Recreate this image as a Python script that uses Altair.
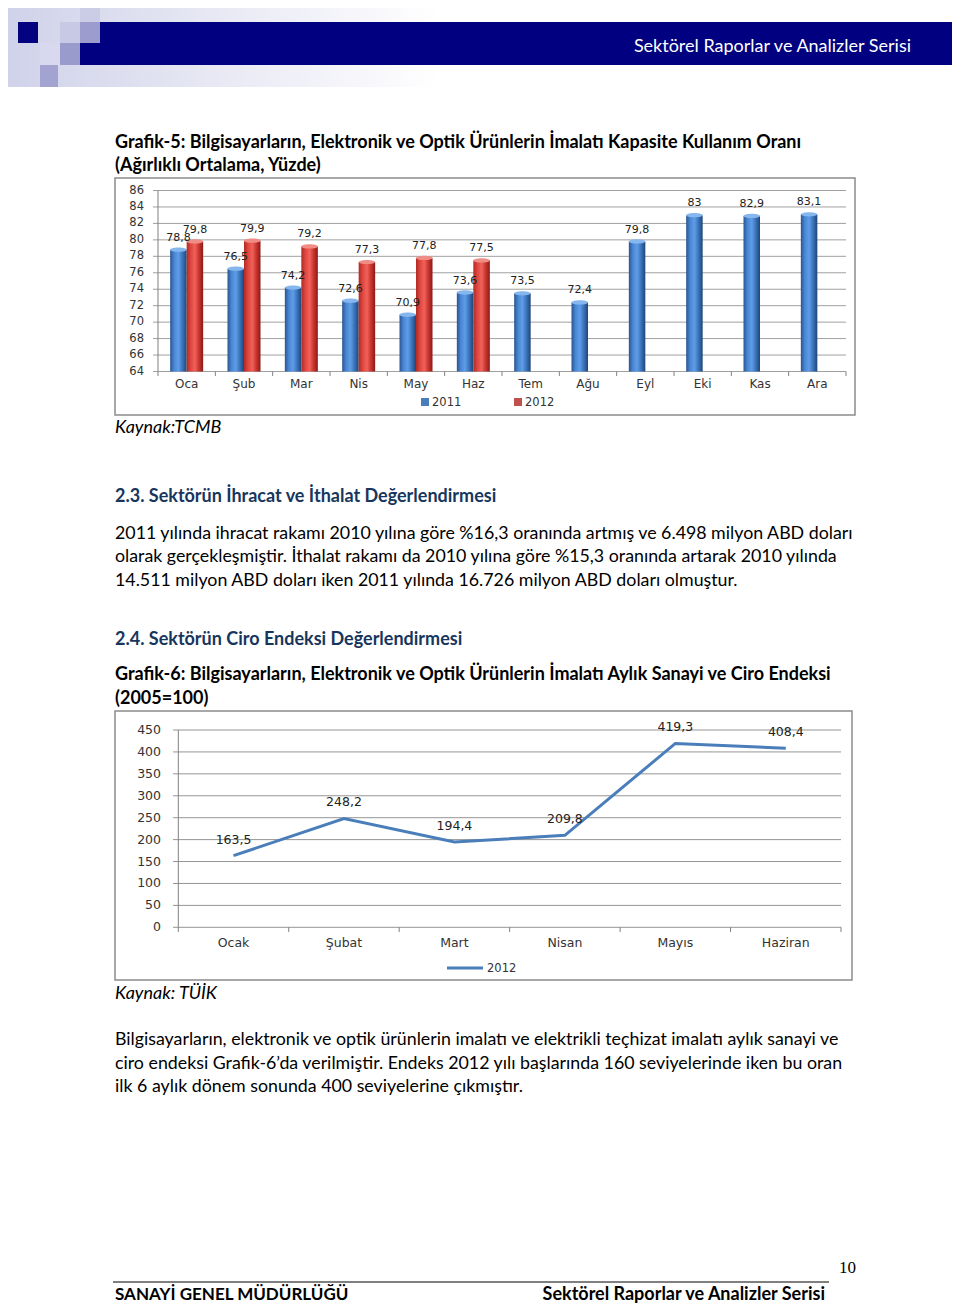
import altair as alt
import pandas as pd

# ---------------- data ----------------
months5 = ['Oca', 'Şub', 'Mar', 'Nis', 'May', 'Haz', 'Tem', 'Ağu', 'Eyl', 'Eki', 'Kas', 'Ara']
util_2011 = [78.8, 76.5, 74.2, 72.6, 70.9, 73.6, 73.5, 72.4, 79.8, 83, 82.9, 83.1]
util_2012 = [79.8, 79.9, 79.2, 77.3, 77.8, 77.5]
yticks5 = [64, 66, 68, 70, 72, 74, 76, 78, 80, 82, 84, 86]

months6 = ['Ocak', 'Şubat', 'Mart', 'Nisan', 'Mayıs', 'Haziran']
ciro_2012 = [163.5, 248.2, 194.4, 209.8, 419.3, 408.4]
yticks6 = [0, 50, 100, 150, 200, 250, 300, 350, 400, 450]


def tr(v):
    return f"{v:g}".replace('.', ',')


def P(v):  # page pixel -> chart pixel (8px page margin)
    return v - 8


BODY = 'Lato'
XL = 'DejaVu Sans'
FS_REG = 17.8
FS_BOLD = 18

# ---------------- helpers ----------------
def txt(rows, **kw):
    df = pd.DataFrame(rows, columns=['x', 'y', 't'])
    df['x'] = df['x'] - 8
    df['y'] = df['y'] - 8
    return alt.Chart(df).mark_text(**kw).encode(
        x=alt.X('x:Q', scale=None), y=alt.Y('y:Q', scale=None), text='t:N')


def rects(rows, **kw):
    df = pd.DataFrame(rows, columns=['x', 'y', 'x2', 'y2', 'c'])
    for k in ['x', 'y', 'x2', 'y2']:
        df[k] = df[k] - 8
    return alt.Chart(df).mark_rect(**kw).encode(
        x=alt.X('x:Q', scale=None), x2='x2:Q',
        y=alt.Y('y:Q', scale=None), y2='y2:Q',
        color=alt.Color('c:N', scale=None))


def grad(cols):
    n = len(cols) - 1
    return alt.Gradient(gradient='linear', x1=0, x2=1, y1=0, y2=0,
                        stops=[alt.GradientStop(color=c, offset=i / n) for i, c in enumerate(cols)])


layers = []

# ---------------- header ----------------
bg = pd.DataFrame({'x': [P(8)], 'x2': [P(440)], 'y': [P(8)], 'y2': [P(87)]})
layers.append(alt.Chart(bg).mark_rect(
    fill=alt.Gradient(gradient='linear', x1=0, x2=1, y1=0, y2=0,
                      stops=[alt.GradientStop(color='#D0D2EA', offset=0),
                             alt.GradientStop(color='#E6E7F3', offset=0.45),
                             alt.GradientStop(color='#FFFFFF', offset=1)])
).encode(x=alt.X('x:Q', scale=None), x2='x2:Q', y=alt.Y('y:Q', scale=None), y2='y2:Q'))

layers.append(rects([
    (80, 8, 100, 22, '#CBCDE7'),
    (18, 22, 38, 43, '#03037F'),
    (60, 22, 80, 43, '#C8C9E5'),
    (80, 22, 100, 43, '#9C9DCE'),
    (40, 43, 60, 65, '#D8D9EE'),
    (60, 43, 80, 65, '#9A9BCD'),
    (40, 65, 58, 87, '#A2A3D1'),
    (100, 22, 952, 43, '#000080'),
    (80, 43, 952, 65, '#000080'),
]))
layers.append(txt([(911, 47, 'Sektörel Raporlar ve Analizler Serisi')],
                  font=BODY, fontSize=18, color='white', align='right', baseline='middle'))

# ---------------- chart frames ----------------
layers.append(rects([(115, 178, 855, 415, 'white'), (115, 711, 852, 980, 'white')],
                    stroke='#8C8C8C', strokeWidth=1.5))

# ---------------- Grafik-5 bar chart ----------------
X5 = alt.Scale(domain=months5, range=[P(158), P(846)], paddingInner=0.424, paddingOuter=0.212)
Y5 = alt.Scale(domain=[64, 86], range=[P(371.5), P(190.5)], zero=False, nice=False)
step5 = (846 - 158) / 12

df_t5 = pd.DataFrame({'t': yticks5, 'lbl': [str(t) for t in yticks5]})
df_m5 = pd.DataFrame({'month': months5})
df_ax5 = pd.DataFrame({'lo': [yticks5[0]], 'hi': [yticks5[-1]]})
df_a = pd.DataFrame({'month': months5, 'v': util_2011, 'lbl': [tr(v) for v in util_2011]})
df_b = pd.DataFrame({'month': months5[:len(util_2012)], 'v': util_2012,
                     'lbl': [tr(v) for v in util_2012]})

layers.append(alt.Chart(df_t5).mark_rule(color='#A0A0A0', strokeWidth=1).encode(
    y=alt.Y('t:Q', scale=Y5, axis=None), x=alt.value(P(153)), x2=alt.value(P(846))))
layers.append(alt.Chart(df_t5).mark_text(font=XL, fontSize=11.5, color='#333333', align='right',
                                         baseline='middle').encode(
    y=alt.Y('t:Q', scale=Y5, axis=None), x=alt.value(P(144)), text='lbl:N'))
layers.append(alt.Chart(df_ax5).mark_rule(color='#808080', strokeWidth=1).encode(
    y=alt.Y('hi:Q', scale=Y5, axis=None), y2='lo:Q', x=alt.value(P(158))))
layers.append(alt.Chart(df_m5).mark_rule(color='#808080', strokeWidth=1, xOffset=-step5 / 2).encode(
    x=alt.X('month:N', scale=X5, axis=None, bandPosition=0.5),
    y=alt.value(P(371.5)), y2=alt.value(P(376))))
layers.append(alt.Chart(df_m5.tail(1)).mark_rule(color='#808080', strokeWidth=1, xOffset=step5 / 2).encode(
    x=alt.X('month:N', scale=X5, axis=None, bandPosition=0.5),
    y=alt.value(P(371.5)), y2=alt.value(P(376))))

bw = 16.5
blue_grad = grad(['#2A5590', '#4A88D6', '#5E9DE6', '#3A72BA', '#1F4577'])
red_grad = grad(['#B02A24', '#E04640', '#F0625A', '#C8342E', '#8A1A16'])
cap = 'M -1 0 A 1 0.26 0 1 1 1 0 A 1 0.26 0 1 1 -1 0 Z'
series5 = [(df_a, -bw / 2, blue_grad, '#86B6EE'), (df_b, bw / 2, red_grad, '#F08C86')]

# bars first
for df_, off, fill_, capc in series5:
    layers.append(alt.Chart(df_).mark_bar(width=bw, xOffset=off, fill=fill_).encode(
        x=alt.X('month:N', scale=X5, axis=None), y=alt.Y('v:Q', scale=Y5, axis=None),
        y2=alt.datum(yticks5[0])))
    layers.append(alt.Chart(df_).mark_point(shape=cap, size=bw * bw, filled=True, fill=capc,
                                            opacity=1, strokeWidth=0, xOffset=off).encode(
        x=alt.X('month:N', scale=X5, axis=None, bandPosition=0.5),
        y=alt.Y('v:Q', scale=Y5, axis=None)))
# then value labels on top of all bars
for df_, off, fill_, capc in series5:
    layers.append(alt.Chart(df_).mark_text(font=XL, fontSize=11, color='#222222', xOffset=off, dy=-12,
                                           baseline='middle').encode(
        x=alt.X('month:N', scale=X5, axis=None, bandPosition=0.5),
        y=alt.Y('v:Q', scale=Y5, axis=None), text='lbl:N'))

layers.append(alt.Chart(df_m5).mark_text(font=XL, fontSize=12, color='#333333', baseline='middle').encode(
    x=alt.X('month:N', scale=X5, axis=None, bandPosition=0.5), y=alt.value(P(384)), text='month:N'))

# legend 5
layers.append(rects([(421, 398, 429, 406, '#4A7EBB'), (514, 398, 522, 406, '#C0504D')]))
layers.append(txt([(432, 402.5, '2011'), (525, 402.5, '2012')],
                  font=XL, fontSize=11.5, color='#333333', align='left', baseline='middle'))

# ---------------- Grafik-6 line chart ----------------
X6 = alt.Scale(type='point', domain=months6, range=[P(178.3), P(841)], padding=0.5)
Y6 = alt.Scale(domain=[0, 450], range=[P(927.3), P(730)], zero=False, nice=False)
step6 = (841 - 178.3) / 6

df_t6 = pd.DataFrame({'t': yticks6, 'lbl': [str(t) for t in yticks6]})
df_m6 = pd.DataFrame({'ay': months6})
df_ax6 = pd.DataFrame({'lo': [yticks6[0]], 'hi': [yticks6[-1]]})
df_c = pd.DataFrame({'ay': months6, 'v': ciro_2012, 'lbl': [tr(v) for v in ciro_2012]})

layers.append(alt.Chart(df_t6).mark_rule(color='#959595', strokeWidth=1).encode(
    y=alt.Y('t:Q', scale=Y6, axis=None), x=alt.value(P(173)), x2=alt.value(P(841))))
layers.append(alt.Chart(df_t6).mark_text(font=XL, fontSize=12.5, color='#333333', align='right',
                                         baseline='middle').encode(
    y=alt.Y('t:Q', scale=Y6, axis=None), x=alt.value(P(161)), text='lbl:N'))
layers.append(alt.Chart(df_ax6).mark_rule(color='#808080', strokeWidth=1).encode(
    y=alt.Y('hi:Q', scale=Y6, axis=None), y2='lo:Q', x=alt.value(P(178.3))))
layers.append(alt.Chart(df_m6).mark_rule(color='#808080', strokeWidth=1, xOffset=-step6 / 2).encode(
    x=alt.X('ay:N', scale=X6, axis=None), y=alt.value(P(927.3)), y2=alt.value(P(932))))
layers.append(alt.Chart(df_m6.tail(1)).mark_rule(color='#808080', strokeWidth=1, xOffset=step6 / 2).encode(
    x=alt.X('ay:N', scale=X6, axis=None), y=alt.value(P(927.3)), y2=alt.value(P(932))))
layers.append(alt.Chart(df_c).mark_line(color='#4A7EBB', strokeWidth=3).encode(
    x=alt.X('ay:N', scale=X6, axis=None, sort=months6), y=alt.Y('v:Q', scale=Y6, axis=None)))
layers.append(alt.Chart(df_c).mark_text(font=XL, fontSize=12.5, color='#222222', dy=-16,
                                        baseline='middle').encode(
    x=alt.X('ay:N', scale=X6, axis=None), y=alt.Y('v:Q', scale=Y6, axis=None), text='lbl:N'))
layers.append(alt.Chart(df_m6).mark_text(font=XL, fontSize=12.5, color='#333333', baseline='middle').encode(
    x=alt.X('ay:N', scale=X6, axis=None), y=alt.value(P(943)), text='ay:N'))

# legend 6
leg6 = pd.DataFrame({'x': [P(447)], 'x2': [P(483)], 'y': [P(968)]})
layers.append(alt.Chart(leg6).mark_rule(color='#4A7EBB', strokeWidth=3).encode(
    x=alt.X('x:Q', scale=None), x2='x2:Q', y=alt.Y('y:Q', scale=None)))
layers.append(txt([(487, 968.5, '2012')], font=XL, fontSize=11.5, color='#333333',
                  align='left', baseline='middle'))

# ---------------- page text ----------------
layers.append(txt([
    (115, 143, 'Grafik-5: Bilgisayarların, Elektronik ve Optik Ürünlerin İmalatı Kapasite Kullanım Oranı'),
    (115, 166, '(Ağırlıklı Ortalama, Yüzde)'),
    (115, 675, 'Grafik-6: Bilgisayarların, Elektronik ve Optik Ürünlerin İmalatı Aylık Sanayi ve Ciro Endeksi'),
    (115, 699, '(2005=100)'),
], font=BODY, fontSize=FS_BOLD, fontWeight='bold', color='black', align='left', baseline='middle'))

layers.append(txt([
    (115, 497, '2.3. Sektörün İhracat ve İthalat Değerlendirmesi'),
    (115, 640, '2.4. Sektörün Ciro Endeksi Değerlendirmesi'),
], font=BODY, fontSize=FS_BOLD, fontWeight='bold', color='#17365D', align='left', baseline='middle'))

layers.append(txt([
    (115, 428, 'Kaynak:TCMB'),
    (115, 994, 'Kaynak: TÜİK'),
], font=BODY, fontSize=FS_BOLD, fontStyle='italic', color='black', align='left', baseline='middle'))

layers.append(txt([
    (115, 534, '2011 yılında ihracat rakamı 2010 yılına göre %16,3 oranında artmış ve 6.498 milyon ABD doları'),
    (115, 557, 'olarak gerçekleşmiştir. İthalat rakamı da 2010 yılına göre %15,3 oranında artarak 2010 yılında'),
    (115, 581, '14.511 milyon ABD doları iken 2011 yılında 16.726 milyon ABD doları olmuştur.'),
    (115, 1040, 'Bilgisayarların, elektronik ve optik ürünlerin imalatı ve elektrikli teçhizat imalatı aylık sanayi ve'),
    (115, 1064, 'ciro endeksi Grafik-6’da verilmiştir. Endeks 2012 yılı başlarında 160 seviyelerinde iken bu oran'),
    (115, 1087, 'ilk 6 aylık dönem sonunda 400 seviyelerine çıkmıştır.'),
], font=BODY, fontSize=FS_REG, color='black', align='left', baseline='middle'))

# footer
layers.append(txt([(856, 1268, '10')], font='Liberation Serif', fontSize=17, color='black',
                  align='right', baseline='middle'))
foot = pd.DataFrame({'x': [P(113)], 'x2': [P(829)], 'y': [P(1282)]})
layers.append(alt.Chart(foot).mark_rule(color='black', strokeWidth=1).encode(
    x=alt.X('x:Q', scale=None), x2='x2:Q', y=alt.Y('y:Q', scale=None)))
layers.append(txt([(115, 1295, 'SANAYİ GENEL MÜDÜRLÜĞÜ')], font=BODY, fontSize=17, fontWeight='bold',
                  color='black', align='left', baseline='middle'))
layers.append(txt([(825, 1295, 'Sektörel Raporlar ve Analizler Serisi')], font=BODY, fontSize=FS_BOLD,
                  fontWeight='bold', color='black', align='right', baseline='middle'))

chart = alt.layer(*layers).resolve_scale(x='independent', y='independent').properties(
    width=944, height=1298, padding=0, autosize=alt.AutoSizeParams(type='none')
).configure_view(stroke=None)

chart.save("out.html", embed_options={"renderer": "svg", "actions": False})
